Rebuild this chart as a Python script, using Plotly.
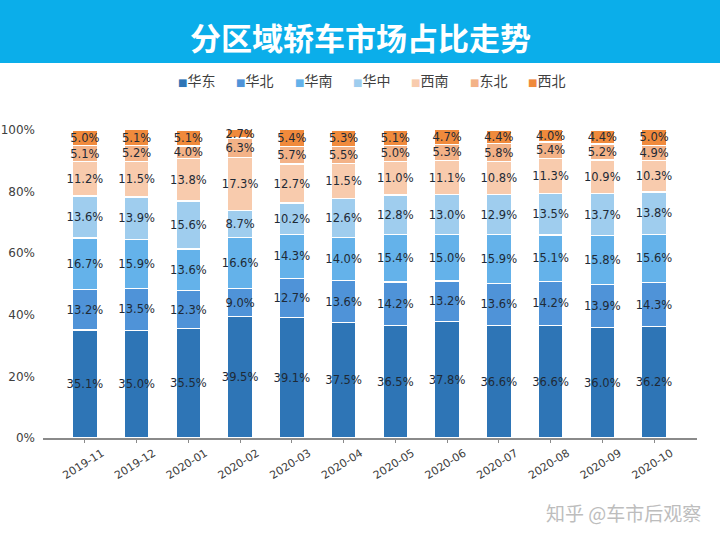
import plotly.graph_objects as go

months = ["2019-11", "2019-12", "2020-01", "2020-02", "2020-03", "2020-04",
          "2020-05", "2020-06", "2020-07", "2020-08", "2020-09", "2020-10"]

huadong = [35.1, 35.0, 35.5, 39.5, 39.1, 37.5, 36.5, 37.8, 36.6, 36.6, 36.0, 36.2]
huabei = [13.2, 13.5, 12.3, 9.0, 12.7, 13.6, 14.2, 13.2, 13.6, 14.2, 13.9, 14.3]
huanan = [16.7, 15.9, 13.6, 16.6, 14.3, 14.0, 15.4, 15.0, 15.9, 15.1, 15.8, 15.6]
huazhong = [13.6, 13.9, 15.6, 8.7, 10.2, 12.6, 12.8, 13.0, 12.9, 13.5, 13.7, 13.8]
xinan = [11.2, 11.5, 13.8, 17.3, 12.7, 11.5, 11.0, 11.1, 10.8, 11.3, 10.9, 10.3]
dongbei = [5.1, 5.2, 4.0, 6.3, 5.7, 5.5, 5.0, 5.3, 5.8, 5.4, 5.2, 4.9]
xibei = [5.0, 5.1, 5.1, 2.7, 5.4, 5.3, 5.1, 4.7, 4.4, 4.0, 4.4, 5.0]

region_names = ["华东", "华北", "华南", "华中", "西南", "东北", "西北"]
region_values = [huadong, huabei, huanan, huazhong, xinan, dongbei, xibei]
region_colors = ["#2e75b6", "#4f93d8", "#64b2ea", "#9fcdee", "#f8cbad", "#f3b287", "#f08a3c"]

y_ticks = [0, 20, 40, 60, 80, 100]
y_tick_labels = ["0%", "20%", "40%", "60%", "80%", "100%"]

NUM_FONT = "DejaVu Sans"
CJK_FONT = "Noto Sans CJK SC"

# plot area geometry in pixels (layout only)
L, R, T, B = 43, 23, 127, 102
PW, PH = 720 - L - R, 540 - T - B


def px_x(x):
    return (x - L) / PW


def px_y(y):
    return (540 - B - y) / PH


fig = go.Figure()
for name, vals, col in zip(region_names, region_values, region_colors):
    fig.add_trace(go.Bar(
        name=name,
        x=months,
        y=vals,
        marker=dict(color=col, line=dict(color="white", width=1.3)),
        width=0.48,
        texttemplate="%{y:.1f}%",
        textposition="inside",
        insidetextanchor="middle",
        textangle=0,
        textfont=dict(family=NUM_FONT, size=11.5, color="#1e2a36"),
        showlegend=False,
    ))

# legend drawn as a row of text entries (colored square + region name)
legend_annotations = []
for i, (name, col) in enumerate(zip(region_names, region_colors)):
    legend_annotations.append(dict(
        text=f'<span style="color:{col};font-family:DejaVu Sans;font-size:10px">■</span>{name}',
        xref="paper", yref="paper",
        x=px_x(176 + 58.3 * i), y=px_y(80),
        xanchor="left", yanchor="middle", showarrow=False,
        font=dict(family=CJK_FONT, size=14, color="#404040"),
    ))

fig.update_layout(
    barmode="stack",
    width=720,
    height=540,
    margin=dict(l=L, r=R, t=T, b=B, autoexpand=False),
    paper_bgcolor="white",
    plot_bgcolor="white",
    uniformtext=dict(minsize=11.5, mode="show"),
    showlegend=False,
    xaxis=dict(
        type="category",
        range=[-0.81, 11.83],
        tickangle=-32,
        ticklabelshift=17,
        tickfont=dict(family=NUM_FONT, size=11, color="#404040"),
        showline=True, linecolor="#8a8a8a", linewidth=1.5,
        ticks="outside", ticklen=3, tickcolor="#8a8a8a",
        showgrid=False, zeroline=False,
        automargin=False,
    ),
    yaxis=dict(
        range=[0, 101],
        tickmode="array",
        tickvals=y_ticks,
        ticktext=y_tick_labels,
        tickfont=dict(family=NUM_FONT, size=12, color="#404040"),
        ticklabelstandoff=7,
        showline=False, showgrid=False, zeroline=False,
        ticks="",
        automargin=False,
    ),
    shapes=[dict(
        type="rect", xref="paper", yref="paper",
        x0=px_x(0), x1=px_x(720),
        y0=px_y(63), y1=px_y(-2),
        fillcolor="#0baeea", line=dict(width=0), layer="below",
    )],
    annotations=[
        dict(
            text="<b>分区域轿车市场占比走势</b>",
            xref="paper", yref="paper",
            x=px_x(360), y=px_y(36),
            xanchor="center", yanchor="middle", showarrow=False,
            font=dict(family=CJK_FONT, size=31, color="white"),
        ),
        dict(
            text="知乎 @车市后观察",
            xref="paper", yref="paper",
            x=px_x(703), y=px_y(512),
            xanchor="right", yanchor="middle", showarrow=False,
            font=dict(family=CJK_FONT, size=19, color="#bdbdbd"),
        ),
    ] + legend_annotations,
)

fig.write_html("out.html", config={"displayModeBar": False},
               post_script="document.body.style.margin='0';")
